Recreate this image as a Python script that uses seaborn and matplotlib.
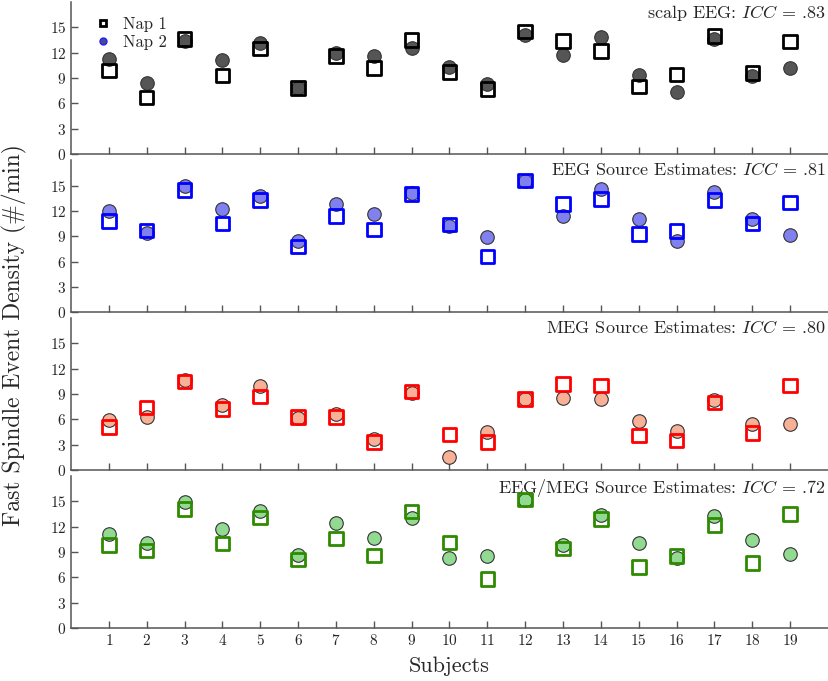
import numpy as np
import pandas as pd
import seaborn as sns
from matplotlib import pyplot as plt
from matplotlib.lines import Line2D

subjects = list(range(1, 20))

# Nap 1 (squares) and Nap 2 (circles) per panel
scalp_nap1 = [9.9, 6.7, 13.6, 9.3, 12.5, 7.8, 11.6, 10.2, 13.5, 9.7, 7.7, 14.5, 13.4, 12.2, 8.0, 9.4, 14.0, 9.6, 13.3]
scalp_nap2 = [11.3, 8.4, 13.4, 11.1, 13.2, 7.8, 12.0, 11.6, 12.5, 10.3, 8.3, 14.1, 11.7, 13.9, 9.3, 7.3, 13.6, 9.2, 10.2]
eeg_nap1 = [10.8, 9.7, 14.5, 10.5, 13.3, 7.8, 11.4, 9.8, 14.0, 10.4, 6.6, 15.6, 12.8, 13.4, 9.3, 9.6, 13.3, 10.5, 13.0]
eeg_nap2 = [12.0, 9.4, 15.0, 12.2, 13.8, 8.4, 12.8, 11.6, 14.1, 10.2, 8.9, 15.5, 11.4, 14.6, 11.0, 8.5, 14.3, 11.1, 9.1]
meg_nap1 = [5.1, 7.4, 10.5, 7.2, 8.7, 6.3, 6.3, 3.3, 9.3, 4.2, 3.3, 8.4, 10.2, 10.0, 4.1, 3.5, 8.0, 4.4, 10.0]
meg_nap2 = [5.9, 6.3, 10.7, 7.7, 10.0, 6.2, 6.6, 3.7, 9.1, 1.5, 4.5, 8.4, 8.5, 8.4, 5.8, 4.6, 8.3, 5.5, 5.4]
both_nap1 = [9.8, 9.2, 14.1, 10.0, 13.1, 8.1, 10.6, 8.6, 13.8, 10.1, 5.8, 15.2, 9.4, 12.9, 7.2, 8.5, 12.2, 7.7, 13.5]
both_nap2 = [11.1, 10.1, 14.9, 11.7, 13.9, 8.7, 12.4, 10.7, 13.0, 8.3, 8.5, 15.2, 9.8, 13.4, 10.1, 8.3, 13.3, 10.4, 8.8]

titles = ['scalp EEG', 'EEG Source Estimates', 'MEG Source Estimates', 'EEG/MEG Source Estimates']
icc = ['.83', '.81', '.80', '.72']
square_colors = ['black', '#0000ff', '#ff0000', '#2e8b00']
circle_colors = ['#555555', '#8080ee', '#f8b196', '#92da92']

sns.set_style('ticks')
plt.rcParams['font.family'] = ['cmr10', 'DejaVu Serif']
plt.rcParams['mathtext.fontset'] = 'cm'
plt.rcParams['axes.formatter.use_mathtext'] = True
plt.rcParams['axes.unicode_minus'] = False

panels = [(scalp_nap1, scalp_nap2), (eeg_nap1, eeg_nap2), (meg_nap1, meg_nap2), (both_nap1, both_nap2)]

fig = plt.figure(figsize=(8.29, 6.81), dpi=100)
bottoms = [0.7739, 0.5414, 0.3098, 0.0778]
axes = []
for i, (n1, n2) in enumerate(panels):
    ax = fig.add_axes([0.0856, bottoms[i], 0.9132, 0.2232])
    df = pd.DataFrame({'subject': subjects, 'nap1': n1, 'nap2': n2})
    sns.scatterplot(data=df, x='subject', y='nap2', marker='o', s=95,
                    color=circle_colors[i], edgecolor='#333333', linewidth=0.8, ax=ax, zorder=3)
    sns.scatterplot(data=df, x='subject', y='nap1', marker='s', s=95,
                    facecolor='none', edgecolor=square_colors[i], linewidth=2.0, ax=ax, zorder=4)
    ax.set(xlim=(0, 20), ylim=(0, 18), xlabel='', ylabel='')
    ax.set_xticks(subjects)
    ax.set_yticks([0, 3, 6, 9, 12, 15])
    ax.tick_params(direction='in', length=5, width=1, color='#555555', labelsize=11)
    if i < 3:
        ax.tick_params(labelbottom=False)
    sns.despine(ax=ax)
    for sp in ['left', 'bottom']:
        ax.spines[sp].set_color('#555555')
        ax.spines[sp].set_linewidth(1.1)
    ax.text(0.997, 0.995, titles[i] + ': $ICC$ = ' + icc[i], transform=ax.transAxes,
            ha='right', va='top', fontsize=13)
    axes.append(ax)

handles = [
    Line2D([], [], marker='s', ls='none', markersize=5, markerfacecolor='white',
           markeredgecolor='black', markeredgewidth=2),
    Line2D([], [], marker='o', ls='none', markersize=5, markerfacecolor='#4a4a8a',
           markeredgecolor='#2020ff', markeredgewidth=1),
]
axes[0].legend(handles, ['Nap 1', 'Nap 2'], loc='upper left', bbox_to_anchor=(0.011, 1.0),
               frameon=False, fontsize=12, handlelength=1.0, handletextpad=0.7,
               labelspacing=0.15)

fig.text(0.018, 0.508, 'Fast Spindle Event Density (#/min)', rotation=90,
         ha='center', va='center', fontsize=17)
fig.text(0.542, 0.022, 'Subjects', ha='center', va='center', fontsize=16)

fig.savefig('out.png', dpi=100)
